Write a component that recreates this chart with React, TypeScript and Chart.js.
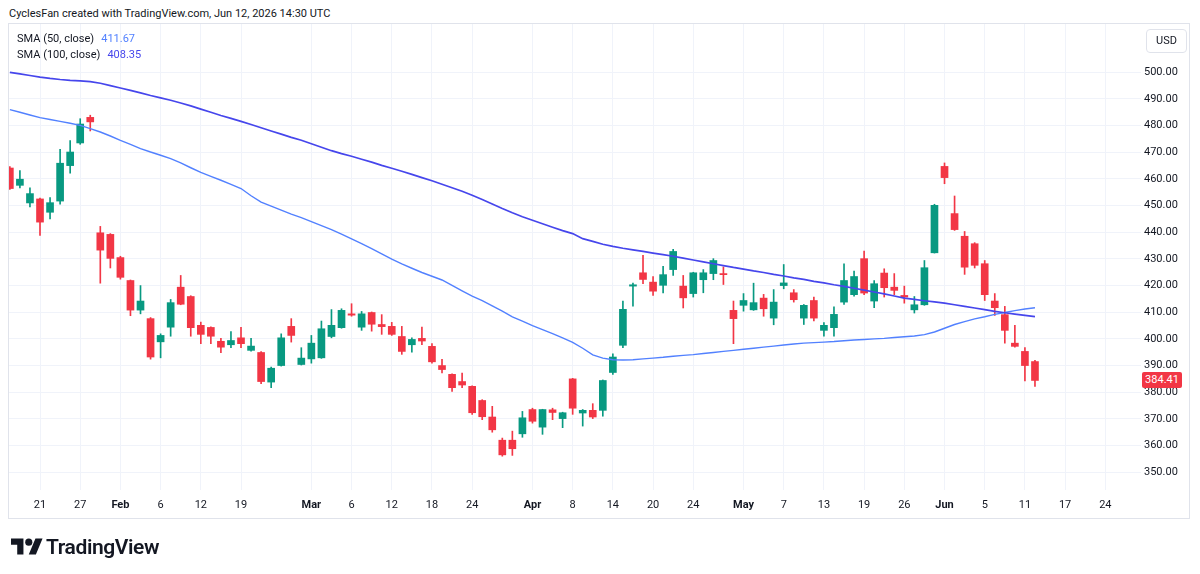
import React, { useEffect, useRef } from "react";
import { Chart, registerables } from "chart.js";

Chart.register(...registerables);

const FONT = "Roboto, 'Noto Sans', 'DejaVu Sans', sans-serif";
const TEXT = "#131722";
const UP = "#089981";
const DOWN = "#F23645";
const GRID = "#f0f3fa";
const FRAME = "#e0e3eb";
const SMA50_COLOR = "#5281ff";
const SMA100_COLOR = "#4646ec";

// Daily candles, Jan 15 .. Jun 12 (trading days, index = bar number)
const opens = [
  464.1, 457.6, 451.0, 452.5, 447.5, 451.7, 465.0, 473.5, 483.1, 439.8,
  439.2, 430.5, 421.9, 410.8, 407.6, 398.9, 404.4, 419.4, 415.9, 405.1,
  404.3, 399.1, 397.8, 400.4, 395.7, 394.9, 383.8, 390.0, 404.7, 390.4,
  392.5, 392.9, 400.9, 404.2, 409.4, 404.4, 409.9, 405.4, 404.7, 400.9,
  397.8, 400.2, 397.2, 390.0, 386.7, 384.0, 382.2, 376.9, 370.7, 362.0,
  362.0, 364.4, 373.5, 366.9, 373.4, 370.1, 385.0, 372.2, 373.2, 373.2,
  387.4, 397.6, 419.8, 424.8, 421.3, 420.1, 426.0, 419.8, 417.0, 422.2,
  424.5, 424.5, 410.7, 412.6, 410.9, 415.3, 407.8, 420.0, 417.3, 407.8,
  414.4, 403.2, 404.2, 413.8, 416.6, 430.1, 414.2, 424.7, 419.4, 416.3,
  410.9, 412.8, 432.3, 464.7, 447.0, 438.5, 435.7, 428.2, 414.2, 409.1,
  398.4, 395.3, 391.5,
];
const highs = [
  464.6, 463.1, 456.7, 452.8, 453.0, 471.1, 474.4, 482.6, 483.9, 442.2,
  439.5, 431.0, 422.1, 420.0, 408.0, 401.9, 414.8, 423.8, 416.2, 406.3,
  404.5, 400.2, 402.7, 404.3, 400.2, 395.2, 389.4, 401.9, 407.6, 396.7,
  401.3, 406.7, 411.0, 411.3, 413.2, 410.3, 410.1, 409.1, 406.2, 404.7,
  400.4, 404.4, 398.2, 392.3, 386.9, 387.2, 382.4, 377.2, 374.7, 362.8,
  365.4, 372.8, 374.0, 373.6, 374.0, 372.5, 385.2, 373.5, 375.7, 384.6,
  394.4, 414.2, 420.9, 431.3, 423.4, 427.2, 433.6, 423.8, 425.0, 426.0,
  430.1, 427.0, 414.2, 417.0, 420.9, 416.7, 418.5, 427.9, 418.5, 412.9,
  415.7, 406.1, 412.0, 428.2, 425.4, 432.9, 421.9, 426.3, 424.5, 419.8,
  415.9, 429.4, 450.5, 466.0, 453.6, 440.3, 436.1, 429.4, 417.0, 412.2,
  405.1, 396.7, 392.0,
];
const lows = [
  456.1, 456.6, 449.5, 438.8, 445.0, 450.5, 462.2, 473.0, 478.0, 420.9,
  426.6, 422.4, 408.7, 409.4, 392.4, 392.9, 401.0, 412.8, 401.0, 398.2,
  398.2, 394.8, 396.7, 396.7, 395.4, 383.2, 381.7, 389.8, 398.8, 390.2,
  390.9, 392.7, 400.4, 404.0, 408.5, 403.2, 402.9, 401.7, 401.3, 394.2,
  395.0, 397.8, 390.9, 387.2, 380.3, 381.7, 371.7, 369.7, 365.0, 356.0,
  356.3, 363.1, 368.4, 364.2, 369.7, 366.7, 371.7, 367.3, 370.1, 371.0,
  386.7, 396.7, 412.3, 420.7, 416.3, 417.2, 423.8, 411.6, 415.7, 417.3,
  422.2, 420.4, 398.2, 410.4, 410.7, 408.5, 405.3, 418.8, 413.8, 405.4,
  406.7, 401.0, 401.0, 412.9, 416.0, 416.6, 411.7, 415.7, 416.6, 413.4,
  409.7, 412.6, 432.2, 458.2, 440.7, 424.2, 426.6, 414.4, 408.8, 398.4,
  396.9, 384.2, 382.2,
];
const closes = [
  456.4, 459.9, 454.5, 443.8, 451.1, 465.9, 470.1, 480.6, 481.4, 433.3,
  430.2, 423.1, 410.8, 414.2, 393.2, 401.3, 413.6, 413.0, 404.2, 401.7,
  401.0, 396.9, 399.4, 398.2, 397.3, 384.0, 389.0, 400.4, 401.3, 392.8,
  398.4, 403.8, 405.1, 410.7, 408.9, 409.4, 405.5, 404.6, 401.7, 395.3,
  399.8, 399.2, 391.4, 388.5, 381.7, 382.7, 372.3, 370.8, 365.9, 356.5,
  358.8, 370.4, 369.1, 373.5, 372.4, 372.3, 374.0, 373.2, 370.7, 384.4,
  393.2, 411.1, 420.3, 422.3, 417.9, 424.1, 432.8, 415.4, 424.8, 424.8,
  429.4, 424.1, 407.6, 414.4, 413.6, 411.3, 413.8, 421.0, 414.7, 412.6,
  407.8, 405.1, 409.2, 421.9, 423.4, 417.2, 420.7, 419.2, 418.2, 415.7,
  412.8, 426.7, 450.1, 460.5, 441.0, 426.9, 427.6, 416.6, 411.7, 403.2,
  397.2, 390.0, 384.41,
];

// Moving averages (one value per bar)
const sma50 = [
  486.0, 485.0, 484.0, 483.0, 482.3, 481.6, 480.9, 480.1, 478.9, 477.6,
  476.1, 474.5, 473.0, 471.4, 470.1, 468.9, 467.6, 466.0, 464.2, 462.5,
  461.0, 459.5, 458.0, 456.4, 453.7, 451.3, 449.8, 448.3, 446.8, 445.5,
  444.0, 442.5, 441.0, 439.3, 437.5, 435.7, 433.9, 431.9, 429.9, 428.1,
  426.5, 424.9, 423.5, 422.1, 420.1, 418.0, 416.0, 414.4, 412.4, 410.4,
  408.3, 406.7, 405.0, 403.5, 402.0, 400.4, 398.7, 396.5, 394.0, 392.8,
  392.2, 392.1, 392.2, 392.5, 392.8, 393.1, 393.5, 393.8, 394.1, 394.5,
  394.9, 395.3, 395.7, 396.1, 396.5, 396.9, 397.3, 397.7, 398.1, 398.4,
  398.6, 398.8, 399.0, 399.3, 399.6, 399.8, 400.0, 400.2, 400.5, 400.8,
  401.1, 401.6, 402.6, 404.0, 405.4, 406.5, 407.5, 408.3, 409.2, 409.9,
  410.6, 411.2, 411.67,
];
const sma100 = [
  500.0, 499.4, 498.8, 498.2, 497.7, 497.3, 497.0, 496.8, 496.5, 495.9,
  495.0, 494.1, 493.2, 492.3, 491.3, 490.4, 489.5, 488.5, 487.4, 486.2,
  485.0, 483.8, 482.7, 481.6, 480.4, 479.2, 478.0, 476.8, 475.6, 474.5,
  473.2, 471.9, 470.6, 469.5, 468.5, 467.4, 466.3, 465.1, 464.0, 462.9,
  461.7, 460.5, 459.3, 458.0, 456.7, 455.4, 453.9, 452.3, 450.6, 448.9,
  447.3, 445.8, 444.5, 443.2, 441.9, 440.6, 439.5, 437.6, 436.6, 435.5,
  434.7, 434.0, 433.4, 432.8, 432.2, 431.6, 431.0, 430.3, 429.6, 428.9,
  428.2, 427.5, 426.8, 426.2, 425.5, 424.9, 424.2, 423.6, 422.9, 422.3,
  421.6, 421.0, 420.3, 419.7, 419.0, 418.3, 417.6, 416.9, 416.1, 415.3,
  414.8, 414.3, 413.9, 413.4, 412.8, 412.2, 411.6, 411.0, 410.3, 409.8,
  409.3, 408.8, 408.35,
];

// Time axis tick labels (bar index -> label)
const xTickPos = [3, 7, 11, 15, 19, 23, 30, 34, 38, 42, 46, 52, 56, 60, 64, 68, 73, 77, 81, 85, 89, 93, 97, 101, 105, 109];
const xTickText = ["21", "27", "Feb", "6", "12", "19", "Mar", "6", "12", "18", "24", "Apr", "8", "14", "20", "24", "May", "7", "13", "19", "26", "Jun", "5", "11", "17", "24"];
const yTickValues = [350, 360, 370, 380, 390, 400, 410, 420, 430, 440, 450, 460, 470, 480, 490, 500];

const X_MIN = -0.085;
const X_MAX = 112.55;
const Y_MIN = 343.32;
const Y_MAX = 518.12;

export default function App() {
  const canvasRef = useRef<HTMLCanvasElement | null>(null);
  const tagRef = useRef<HTMLDivElement | null>(null);

  useEffect(() => {
    const canvas = canvasRef.current;
    if (!canvas) return;
    const colors = closes.map((c, i) => (c >= opens[i] ? UP : DOWN));
    const isMonth = (i: number) => /[A-Za-z]/.test(xTickText[i] || "");

    const chart = new Chart(canvas, {
      type: "bar",
      data: {
        datasets: [
          {
            type: "line",
            label: "SMA (100, close)",
            data: sma100.map((v, i) => ({ x: i, y: v })),
            borderColor: SMA100_COLOR,
            borderWidth: 1.7,
            pointRadius: 0,
            tension: 0,
            order: 0,
          } as any,
          {
            type: "line",
            label: "SMA (50, close)",
            data: sma50.map((v, i) => ({ x: i, y: v })),
            borderColor: SMA50_COLOR,
            borderWidth: 1.4,
            pointRadius: 0,
            tension: 0,
            order: 0,
          } as any,
          {
            type: "bar",
            label: "body",
            data: opens.map((o, i) => ({ x: i, y: [o, closes[i]] })),
            backgroundColor: colors,
            borderWidth: 0,
            barThickness: 7,
            minBarLength: 1,
            grouped: false,
            order: 1,
          } as any,
          {
            type: "bar",
            label: "wick",
            data: lows.map((l, i) => ({ x: i, y: [l, highs[i]] })),
            backgroundColor: colors,
            borderWidth: 0,
            barThickness: 1,
            grouped: false,
            order: 2,
          } as any,
        ],
      },
      options: {
        animation: false,
        responsive: false,
        maintainAspectRatio: false,
        layout: { padding: { left: 9, right: 10, top: 24, bottom: 56 } },
        plugins: { legend: { display: false }, tooltip: { enabled: false } },
        scales: {
          x: {
            type: "linear",
            min: X_MIN,
            max: X_MAX,
            offset: false,
            grid: { color: GRID, drawTicks: false, offset: false },
            border: { display: false },
            afterBuildTicks: (s: any) => {
              s.ticks = xTickPos.map((v) => ({ value: v }));
            },
            afterFit: (s: any) => {
              s.height = 28;
            },
            ticks: {
              autoSkip: false,
              maxRotation: 0,
              padding: 9,
              color: TEXT,
              font: (ctx: any) => ({ family: FONT, size: 11, weight: isMonth(ctx.index) ? "bold" : "normal" }),
              callback: (_v: any, i: number) => xTickText[i],
            },
          },
          y: {
            type: "linear",
            position: "right",
            min: Y_MIN,
            max: Y_MAX,
            grid: { color: GRID, drawTicks: false },
            border: { display: false },
            afterBuildTicks: (s: any) => {
              s.ticks = yTickValues.map((v) => ({ value: v }));
            },
            afterFit: (s: any) => {
              s.width = 49;
            },
            ticks: {
              padding: 3,
              color: TEXT,
              font: { family: FONT, size: 11 },
              callback: (v: any) => Number(v).toFixed(2),
            },
          },
        },
      } as any,
    });

    const last = closes[closes.length - 1];
    const py = chart.scales.y.getPixelForValue(last);
    if (tagRef.current) tagRef.current.style.top = `${Math.round(py - 8)}px`;

    return () => chart.destroy();
  }, []);

  const lastClose = closes[closes.length - 1];

  return (
    <div
      style={{
        position: "fixed",
        left: 0,
        top: 0,
        width: 1200,
        height: 574,
        background: "#ffffff",
        overflow: "hidden",
        fontFamily: FONT,
        color: TEXT,
      }}
    >
      <div style={{ position: "absolute", left: 9, top: 6, fontSize: 11, lineHeight: "16px", whiteSpace: "nowrap" }}>
        CyclesFan created with TradingView.com, Jun 12, 2026 14:30 UTC
      </div>
      <div
        style={{
          position: "absolute",
          left: 8,
          top: 23,
          width: 1182,
          height: 496,
          boxSizing: "border-box",
          border: `1px solid ${FRAME}`,
        }}
      />
      <canvas
        ref={canvasRef}
        width={1200}
        height={574}
        style={{ position: "absolute", left: 0, top: 0, width: 1200, height: 574 }}
      />
      <div style={{ position: "absolute", left: 17, top: 31, fontSize: 11, lineHeight: "16px", whiteSpace: "nowrap" }}>
        <div>
          <span>SMA (50, close)</span>
          <span style={{ color: SMA50_COLOR, marginLeft: 7 }}>{sma50[sma50.length - 1].toFixed(2)}</span>
        </div>
        <div>
          <span>SMA (100, close)</span>
          <span style={{ color: SMA100_COLOR, marginLeft: 7 }}>{sma100[sma100.length - 1].toFixed(2)}</span>
        </div>
      </div>
      <div
        style={{
          position: "absolute",
          left: 1146,
          top: 29,
          width: 41,
          height: 24,
          boxSizing: "border-box",
          border: `1px solid ${FRAME}`,
          borderRadius: 4,
          fontSize: 11,
          lineHeight: "22px",
          textAlign: "center",
        }}
      >
        USD
      </div>
      <div
        ref={tagRef}
        style={{
          position: "absolute",
          left: 1142,
          top: 373,
          width: 40,
          height: 16,
          background: DOWN,
          color: "#ffffff",
          borderRadius: 2,
          fontSize: 11,
          lineHeight: "16px",
          textAlign: "center",
        }}
      >
        {lastClose.toFixed(2)}
      </div>
      <div style={{ position: "absolute", left: 11, top: 535, display: "flex", alignItems: "center" }}>
        <svg width="32" height="25" viewBox="0 0 36 28" style={{ display: "block" }}>
          <path d="M14 22H7V11H0V4h14v18zM28 22h-8l7.5-18h8L28 22z" fill={TEXT} />
          <circle cx="20" cy="8" r="4" fill={TEXT} />
        </svg>
        <span style={{ fontSize: 21, fontWeight: 600, marginLeft: 3, letterSpacing: -0.4, lineHeight: "25px" }}>
          TradingView
        </span>
      </div>
    </div>
  );
}
